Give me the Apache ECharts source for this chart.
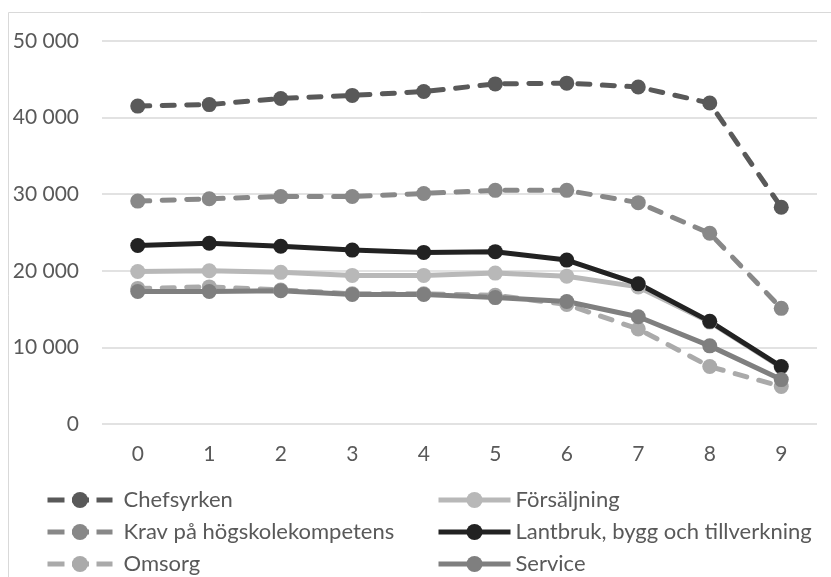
<!DOCTYPE html>
<html><head><meta charset="utf-8">
<script src="https://cdn.jsdelivr.net/npm/echarts@6/dist/echarts.min.js"></script>
<style>html,body{margin:0;padding:0;background:#fff}#c{width:831px;height:577px}</style>
</head><body><div id="c"></div>
<script>
const categories = ['0','1','2','3','4','5','6','7','8','9'];
const chefsyrken = [41500,41700,42500,42900,43400,44400,44500,44000,41900,28300];
const forsaljning = [19900,20000,19800,19400,19400,19700,19300,17900,13300,7400];
const krav = [29100,29400,29700,29700,30100,30500,30500,28900,24900,15100];
const lantbruk = [23300,23600,23200,22700,22400,22500,21400,18300,13400,7500];
const omsorg = [17700,17900,17500,17000,17000,16800,15600,12400,7500,4900];
const service = [17300,17300,17400,16900,16900,16500,16000,14000,10200,5800];
const yTicks = [0,10000,20000,30000,40000,50000];
const seriesNames = ['Chefsyrken','Försäljning','Krav på högskolekompetens','Lantbruk, bygg och tillverkning','Omsorg','Service'];

const font = 'Lato, sans-serif';
const fs = 22;
function mk(name, data, color, dashed){
  return {name, type:'line', data, symbol:'circle', symbolSize:15,
    itemStyle:{color},
    lineStyle:{color, width:5, type: dashed ? [12,12.5] : 'solid', cap: dashed ? 'round':'butt'},
    emphasis:{disabled:true}, animation:false};
}
const rowTops = [489, 521, 553];
const legends = seriesNames.map((n, i) => {
  const col = i % 2, row = Math.floor(i / 2);
  return {
    data:[n], orient:'horizontal', left: col === 0 ? 45 : 436, top: rowTops[row], padding:0,
    itemWidth: col === 0 ? 65 : 72, itemHeight:20,
    lineStyle: col === 0 ? {width:5, type:[17,7.5], cap:'butt'} : {width:5, type:'solid'},
    textStyle:{color:'#595959', fontFamily:font, fontSize:fs, padding: col === 0 ? [0,0,0,6] : 0},
    selectedMode:false
  };
});
const chart = echarts.init(document.getElementById('c'));
chart.setOption({
  animation:false,
  graphic:[{type:'rect', shape:{x:8.5,y:12.5,width:900,height:700}, style:{fill:'none', stroke:'#d9d9d9', lineWidth:1}}],
  grid:{left:102,right:14,top:41,bottom:153},
  xAxis:{type:'category', data:categories, boundaryGap:true,
    axisLine:{show:false}, axisTick:{show:false},
    axisLabel:{color:'#595959', fontFamily:font, fontSize:21, margin:20}},
  yAxis:{type:'value', min:0, max:50000, interval:10000,
    axisLine:{show:false}, axisTick:{show:false},
    splitLine:{lineStyle:{color:'#d9d9d9', width:1.5}},
    axisLabel:{color:'#595959', fontFamily:font, fontSize:21, margin:23,
      formatter: v => yTicks.includes(v) ? String(v).replace(/\B(?=(\d{3})+(?!\d))/g,' ') : ''}},
  legend: legends,
  series:[
    mk(seriesNames[0], chefsyrken, '#595959', true),
    mk(seriesNames[1], forsaljning, '#b8b8b8', false),
    mk(seriesNames[2], krav, '#888888', true),
    mk(seriesNames[3], lantbruk, '#222222', false),
    mk(seriesNames[4], omsorg, '#aaaaaa', true),
    mk(seriesNames[5], service, '#7f7f7f', false)
  ]
});
</script></body></html>
